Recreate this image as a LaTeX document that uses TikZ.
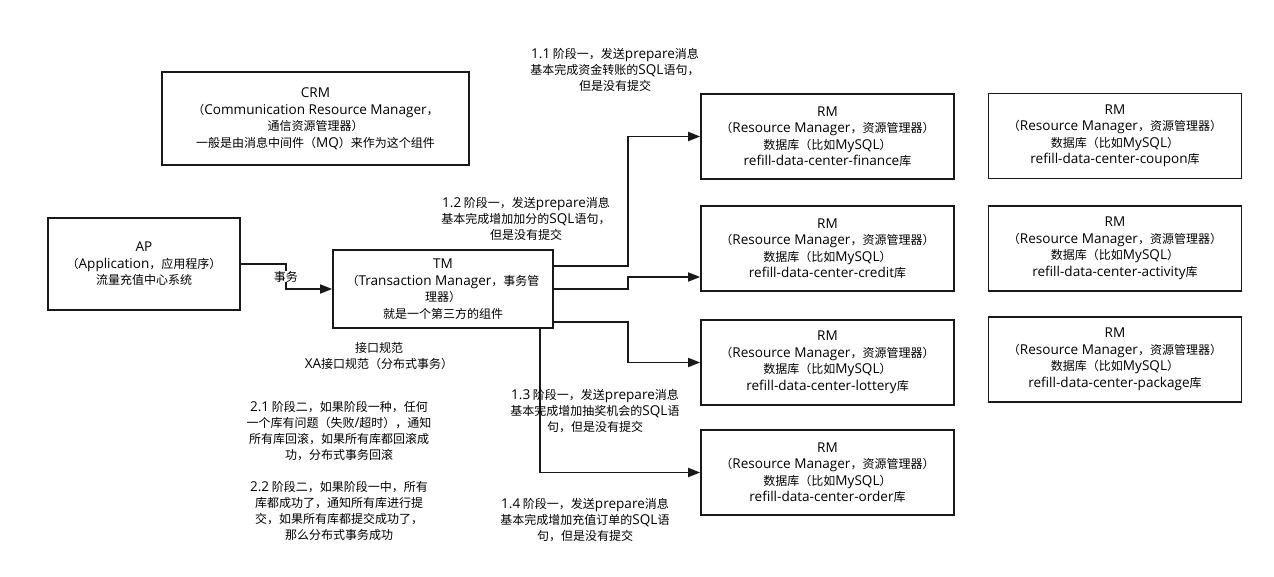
\documentclass[tikz,border=0pt]{standalone}
\usepackage{fontspec}
\setmainfont{Noto Sans CJK SC}
\newfontfamily\latinfont[Scale=1.13]{Open Sans}
\newcommand{\E}[1]{{\latinfont #1}}
\usetikzlibrary{arrows.meta}
\tikzset{
  box/.style={draw=black!90, line width=1.6pt, align=center, inner sep=2pt,
    font=\fontsize{12}{16.5}\selectfont},
  rmbox/.style={box, minimum width=253pt, minimum height=85pt},
  lbl/.style={align=center, font=\fontsize{12}{16}\selectfont, inner sep=1pt},
  conn/.style={draw=black!90, line width=1.6pt, -{Triangle[length=12pt,width=9pt]}}
}
\newcommand{\rmtext}[1]{\E{RM}\\（\E{Resource Manager}，资源管理器）\\数据库（比如\E{MySQL}）\\\E{#1}库}
\begin{document}
\begin{tikzpicture}[x=1pt,y=-1pt]
\useasboundingbox[fill=white] (0,0) rectangle (1274,576);

\node[box, minimum width=307pt, minimum height=93pt] (crm) at (315.5,118.5)
  {\E{CRM}\\（\E{Communication Resource Manager}，\\通信资源管理器）\\一般是由消息中间件（\E{MQ}）来作为这个组件};
\node[box, minimum width=192pt, minimum height=92pt] (ap) at (144,264)
  {\E{AP}\\（\E{Application}，应用程序）\\流量充值中心系统};
\node[box, minimum width=220pt, minimum height=78pt] (tm) at (443,289)
  {\E{TM}\\（\E{Transaction Manager}，事务管\\理器）\\就是一个第三方的组件};

\node[rmbox] (rm1) at (827.5,136.5) {\rmtext{refill-data-center-finance}};
\node[rmbox] (rm2) at (827.5,248.5) {\rmtext{refill-data-center-credit}};
\node[rmbox] (rm3) at (827.5,362.5) {\rmtext{refill-data-center-lottery}};
\node[rmbox] (rm4) at (827.5,472.5) {\rmtext{refill-data-center-order}};

\node[rmbox] (rm5) at (1115,136) {\rmtext{refill-data-center-coupon}};
\node[rmbox] (rm6) at (1115,248.5) {\rmtext{refill-data-center-activity}};
\node[rmbox] (rm7) at (1115,359.5) {\rmtext{refill-data-center-package}};

% connectors
\draw[conn] (ap.east) -- ++(45,0) |- node[pos=0.25, fill=white, lbl, inner sep=0pt] (tx) {事务} (tm.west);
\draw[conn] ([yshift=23pt]tm.east) -- ++(74,0) |- (rm1.west);
\draw[conn] (tm.east) -- ++(74,0) |- ([yshift=-28.5pt]rm2.west);
\draw[conn] ([yshift=-33pt]tm.east) -- ++(74,0) |- (rm3.west);
\draw[conn] ([xshift=97pt]tm.south) |- (rm4.west);

% labels
\node[lbl] (l11) at (615,69.5) {\E{1.1} 阶段一，发送\E{prepare}消息\\基本完成资金转账的\E{SQL}语句，\\但是没有提交};
\node[lbl] (l12) at (526,219) {\E{1.2} 阶段一，发送\E{prepare}消息\\基本完成增加加分的\E{SQL}语句，\\但是没有提交};
\node[lbl] (l13) at (595,411) {\E{1.3} 阶段一，发送\E{prepare}消息\\基本完成增加抽奖机会的\E{SQL}语\\句，但是没有提交};
\node[lbl] (l14) at (585,520) {\E{1.4} 阶段一，发送\E{prepare}消息\\基本完成增加充值订单的\E{SQL}语\\句，但是没有提交};
\node[lbl] (xa) at (379,356) {接口规范\\\E{XA}接口规范（分布式事务）};
\node[lbl] (l21) at (339,431.5) {\E{2.1} 阶段二，如果阶段一种，任何\\一个库有问题（失败\E{/}超时），通知\\所有库回滚，如果所有库都回滚成\\功，分布式事务回滚};
\node[lbl] (l22) at (339,511) {\E{2.2} 阶段二，如果阶段一中，所有\\库都成功了，通知所有库进行提\\交，如果所有库都提交成功了，\\那么分布式事务成功};
\end{tikzpicture}
\end{document}
